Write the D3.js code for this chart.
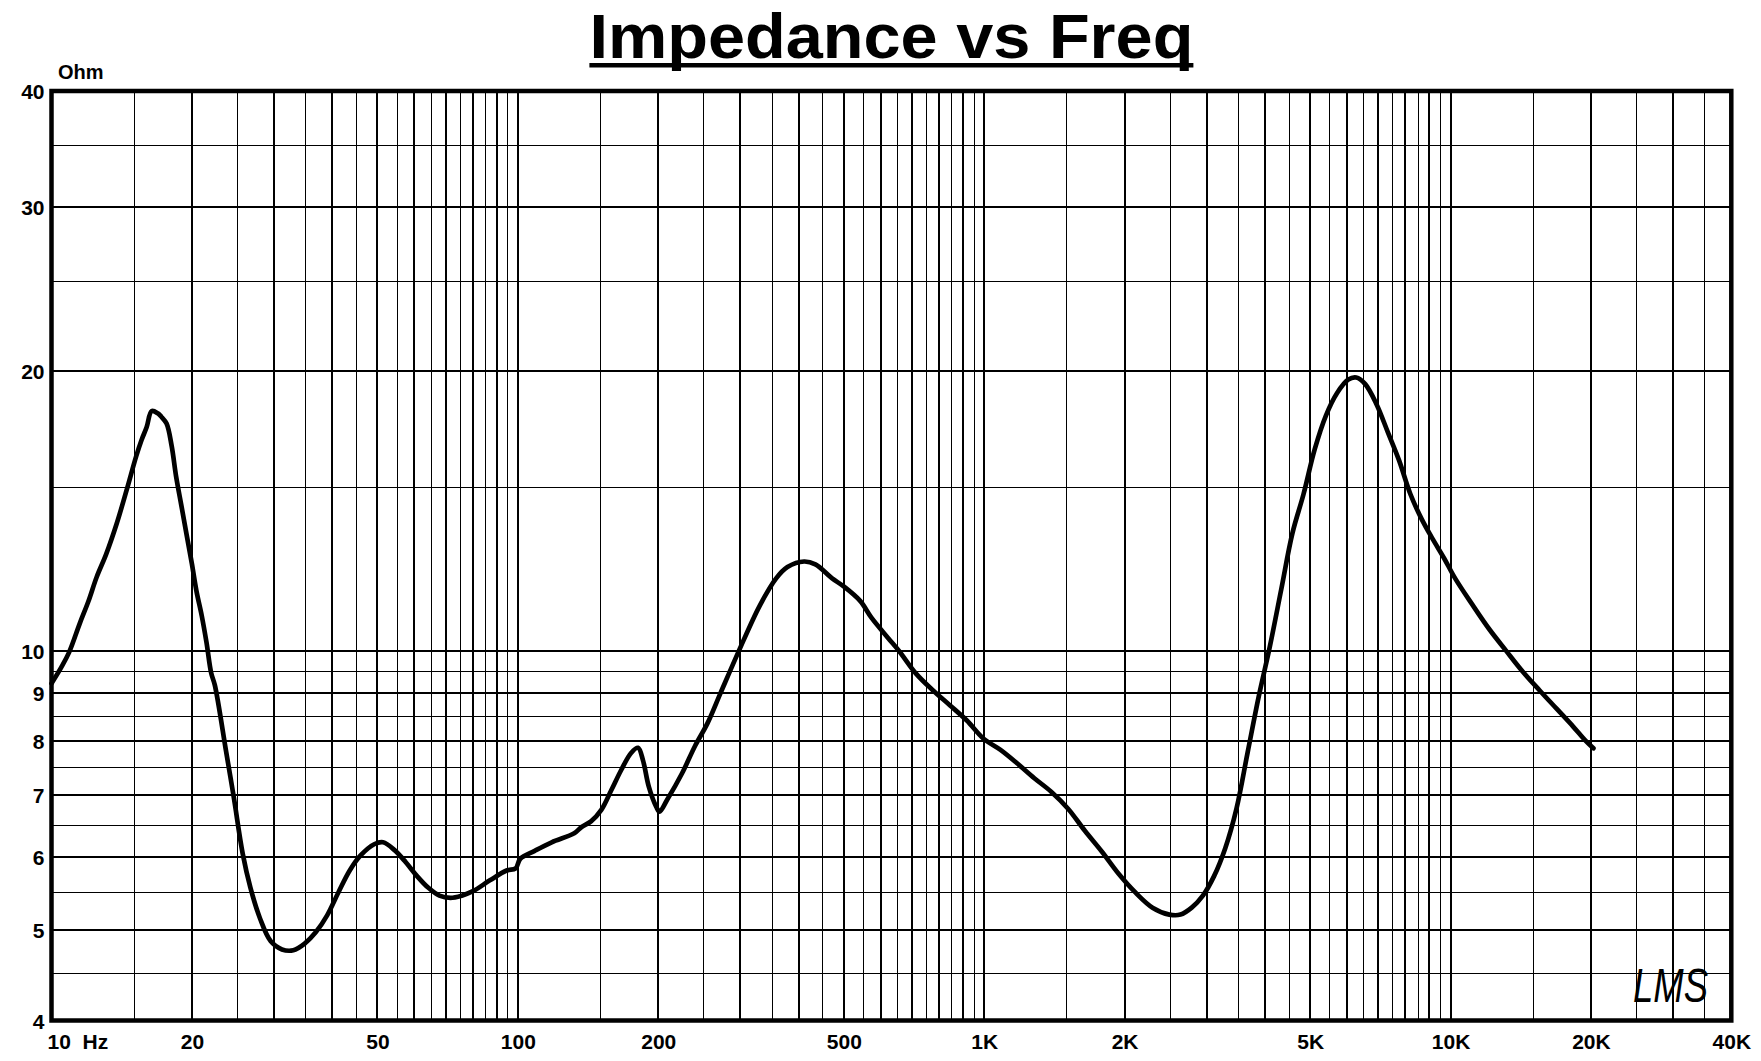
<!DOCTYPE html>
<html><head><meta charset="utf-8">
<script src="https://cdn.jsdelivr.net/npm/d3@7"></script>
<style>
html,body{margin:0;padding:0;background:#fff;}
svg{display:block;}
text{font-family:"Liberation Sans", Arial, sans-serif;fill:#000;}
</style></head><body>
<svg id="chart" width="1761" height="1061"></svg>
<script>
const title = "Impedance vs Freq";
const yUnit = "Ohm";
const logoText = "LMS";

const freq = [10, 10.5, 10.9, 11.5, 12.0, 12.5, 13.1, 13.8, 14.5, 15.2, 15.6, 16.0, 16.4, 16.9, 17.2, 17.65,
  18.1, 18.5, 19.0, 19.5, 20.0, 20.45, 21.0, 21.5, 22.0, 22.4, 23.7, 24.6, 25.7, 26.7, 28.0, 29.5,
  31.2, 33.0, 34.9, 36.9, 39.0, 41.2, 43.6, 46.0, 49.2, 51.4, 54.4, 57.5, 60.8, 64.2, 67.9, 71.7,
  75.8, 80.1, 87.1, 94.6, 98.9, 101.2, 108.7, 118.2, 132.1, 137, 143.5, 151, 158.7, 166.6, 174.9,
  181, 185.5, 190.9, 198.1, 201.3, 209, 225, 240, 255, 272, 298, 329.6, 358, 378.5, 411, 434.5,
  472, 499, 542, 573, 622, 658, 715, 777, 845, 918, 997, 1084, 1178, 1281, 1392, 1513, 1644, 1787,
  1944, 2112, 2296, 2495, 2636, 2786, 2944, 3111, 3288, 3475, 3672, 3880, 4101, 4334, 4580, 4840,
  5115, 5405, 5712, 6036, 6277, 6563, 6942, 7340, 7756, 8200, 8667, 9160, 9680, 10230, 11120, 12100,
  13150, 14290, 15530, 16880, 18340, 19380, 20250];
const impedance = [9.22, 9.6, 9.95, 10.7, 11.3, 12.0, 12.7, 13.7, 14.9, 16.2, 16.85, 17.4, 18.1, 18.0, 17.85, 17.55,
  16.6, 15.4, 14.3, 13.3, 12.4, 11.6, 10.9, 10.2, 9.46, 9.18, 7.77, 6.95, 6.05, 5.56, 5.15, 4.87,
  4.77, 4.76, 4.84, 4.98, 5.19, 5.49, 5.80, 6.02, 6.19, 6.22, 6.10, 5.92, 5.72, 5.56, 5.45, 5.42,
  5.45, 5.51, 5.66, 5.80, 5.83, 5.97, 6.09, 6.22, 6.36, 6.46, 6.55, 6.74, 7.08, 7.44, 7.76,
  7.86, 7.62, 7.14, 6.79, 6.71, 6.91, 7.38, 7.9, 8.35, 9.0, 10.0, 11.16, 11.96, 12.30, 12.47, 12.38,
  11.96, 11.73, 11.31, 10.85, 10.32, 9.98, 9.44, 9.06, 8.73, 8.41, 8.04, 7.82, 7.56, 7.29, 7.05, 6.76, 6.40, 6.08,
  5.75, 5.49, 5.29, 5.20, 5.20, 5.29, 5.45, 5.72, 6.13, 6.76, 7.77, 8.93, 10.12, 11.63, 13.37, 14.74,
  16.47, 17.9, 18.93, 19.57, 19.67, 19.35, 18.4, 17.17, 16.02, 14.74, 13.86, 13.18, 12.58, 11.96, 11.22, 10.55,
  10.0, 9.49, 9.06, 8.66, 8.28, 8.02, 7.85];

const xTickValues = [10, 20, 50, 100, 200, 500, 1000, 2000, 5000, 10000, 20000, 40000];
const xTickLabels = ["10  Hz", "20", "50", "100", "200", "500", "1K", "2K", "5K", "10K", "20K", "40K"];
const yTickValues = [4, 5, 6, 7, 8, 9, 10, 20, 30, 40];
const yTickLabels = ["4", "5", "6", "7", "8", "9", "10", "20", "30", "40"];
const xGridDecades = [10, 100, 1000, 10000];
const yGridDecades = [1, 10];
const gridSteps = [1, 1.5, 2, 2.5, 3, 3.5, 4, 4.5, 5, 5.5, 6, 6.5, 7, 7.5, 8, 8.5, 9, 9.5];

const svg = d3.select("#chart");
const X0 = 51.5, X1 = 1731.3, Y0 = 1020.5, Y1 = 91;
const x = d3.scaleLog().domain([10, 40000]).range([X0, X1]);
const y = d3.scaleLog().domain([4, 40]).range([Y0, Y1]);

function gridVals(decades, domain, major) {
  const out = [];
  decades.forEach(d => gridSteps.forEach(s => {
    const v = d * s;
    if (v > domain[0] * 1.0001 && v < domain[1] * 0.9999 && (Number.isInteger(s) === major)) out.push(v);
  }));
  return out;
}

const W = X1 - X0, H = Y0 - Y1;
function drawGridX(vals, width, offset) {
  const g = svg.append("g").attr("transform", `translate(0,${Y0})`)
    .call(d3.axisBottom(x).tickValues(vals).tickSize(-H).tickFormat("").offset(offset));
  g.select(".domain").remove();
  g.selectAll("line").attr("stroke", "#000").attr("stroke-width", width).attr("shape-rendering", "crispEdges");
}
function drawGridY(vals, width, offset) {
  const g = svg.append("g").attr("transform", `translate(${X0},0)`)
    .call(d3.axisLeft(y).tickValues(vals).tickSize(-W).tickFormat("").offset(offset));
  g.select(".domain").remove();
  g.selectAll("line").attr("stroke", "#000").attr("stroke-width", width).attr("shape-rendering", "crispEdges");
}
drawGridX(gridVals(xGridDecades, [10, 40000], false), 1, 0.5);
drawGridX(gridVals(xGridDecades, [10, 40000], true), 2, 0);
drawGridY(gridVals(yGridDecades, [4, 40], false), 1, 0.5);
drawGridY(gridVals(yGridDecades, [4, 40], true), 2, 0);

// frame
svg.append("rect").attr("x", X0).attr("y", Y1).attr("width", W).attr("height", H)
  .attr("fill", "none").attr("stroke", "#000").attr("stroke-width", 4.5);

// x labels
const gx = svg.append("g").attr("transform", `translate(0,${Y0})`)
  .call(d3.axisBottom(x).tickValues(xTickValues).tickSize(0).tickPadding(0)
    .tickFormat((d, i) => xTickLabels[i]));
gx.select(".domain").remove();
gx.selectAll("text").attr("y", 28).attr("dy", null)
  .attr("font-size", 21).attr("font-weight", "bold")
  .attr("font-family", "'Liberation Sans', Arial, sans-serif")
  .style("white-space", "pre")
  .each(function (d, i) {
    if (i === 0) d3.select(this).attr("text-anchor", "start").attr("x", -4.5);
  });

// y labels
const gy = svg.append("g").attr("transform", `translate(${X0},0)`)
  .call(d3.axisLeft(y).tickValues(yTickValues).tickSize(0).tickPadding(7)
    .tickFormat((d, i) => yTickLabels[i]));
gy.select(".domain").remove();
gy.selectAll("text").attr("dy", "0.36em")
  .attr("font-size", 21).attr("font-weight", "bold")
  .attr("font-family", "'Liberation Sans', Arial, sans-serif");

// unit label
svg.append("text").attr("x", 58).attr("y", 78.5).attr("font-size", 20).attr("font-weight", "bold").text(yUnit);

// title
const t = svg.append("text").attr("x", (X0 + X1) / 2).attr("y", 57.5).attr("text-anchor", "middle")
  .attr("font-size", 63.5).attr("font-weight", "bold")
  .attr("textLength", 604).attr("lengthAdjust", "spacingAndGlyphs").text(title);
const bb = t.node().getBBox();
svg.append("rect").attr("x", bb.x).attr("y", 63).attr("width", bb.width).attr("height", 4.5).attr("fill", "#000");

// curve
const pts = freq.map((f, i) => [f, impedance[i]]);
svg.append("path").datum(pts)
  .attr("d", d3.line().x(d => x(d[0])).y(d => y(d[1])).curve(d3.curveCatmullRom.alpha(0.5)))
  .attr("fill", "none").attr("stroke", "#000").attr("stroke-width", 4.7)
  .attr("stroke-linejoin", "round").attr("stroke-linecap", "round");

// logo
svg.append("text").attr("x", 1633).attr("y", 1002).attr("font-size", 48).attr("font-style", "italic")
  .attr("textLength", 75).attr("lengthAdjust", "spacingAndGlyphs").text(logoText);
</script>
</body></html>
